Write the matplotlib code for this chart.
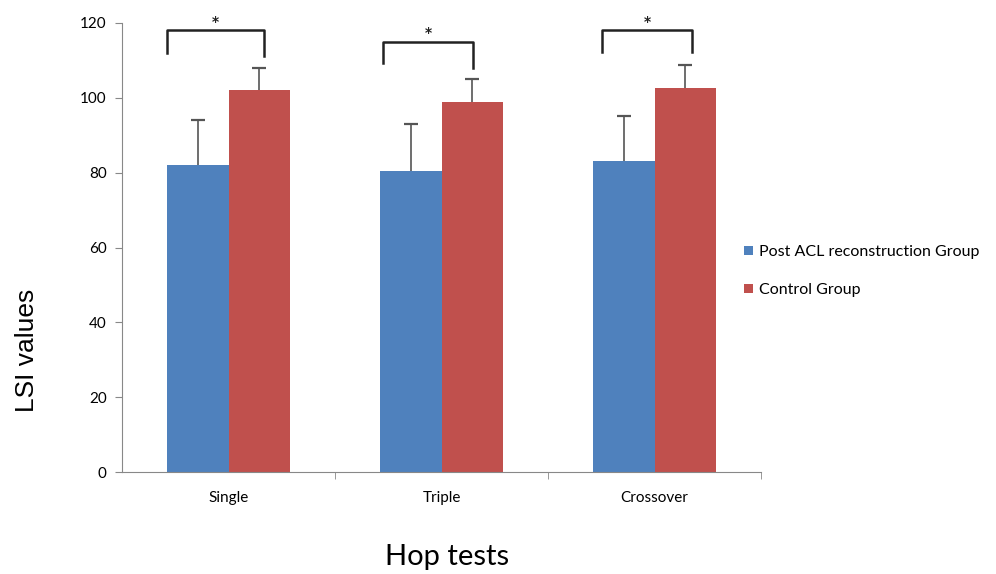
import numpy as np
import matplotlib.pyplot as plt

# Limb symmetry index per hop test
tests = ['Single', 'Triple', 'Crossover']
acl_mean = [82, 80.5, 83]
acl_sd = [12, 12.5, 12.2]
ctrl_mean = [102, 99, 102.7]
ctrl_sd = [6, 6, 6.2]

# significance brackets: offsets from group centre, top and leg ends
br_left = [-0.29, -0.275, -0.246]
br_right = [0.167, 0.148, 0.176]
br_top = [118, 115, 118.1]
br_end_left = [112, 109.2, 112.2]
br_end_right = [111.2, 108, 112.2]

blue = '#4F81BD'
red = '#C0504D'

plt.rcParams['font.family'] = ['Lato', 'DejaVu Sans']

fig = plt.figure(figsize=(9.96, 5.74), dpi=100)
ax = fig.add_axes([122 / 996, 1 - 472 / 574, 639 / 996, 449 / 574])

x = np.arange(len(tests))
w = 0.288
ax.bar(x - w / 2, acl_mean, w, color=blue, label='Post ACL reconstruction Group', zorder=2)
ax.bar(x + w / 2, ctrl_mean, w, color=red, label='Control Group', zorder=2)

# upper error bars only, cap at the top end
for xs, m, sd in [(x - w / 2, acl_mean, acl_sd), (x + w / 2, ctrl_mean, ctrl_sd)]:
    top = np.array(m) + np.array(sd)
    ax.vlines(xs, m, top, color='#555555', lw=1.2, zorder=3)
    ax.plot(xs, top, linestyle='none', marker='_', markersize=10, mew=1.6,
            color='#555555', zorder=3)

for i in range(len(tests)):
    xl, xr = i + br_left[i], i + br_right[i]
    ax.plot([xl, xl, xr, xr], [br_end_left[i], br_top[i], br_top[i], br_end_right[i]],
            color='#222222', lw=1.8, solid_joinstyle='round', zorder=4, clip_on=False)
    ax.text((xl + xr) / 2, br_top[i] + 0.4, '*', ha='center', va='bottom',
            fontsize=10, fontweight='bold', color='#222222', family='DejaVu Sans')

ax.set_xlim(-0.5, 2.5)
ax.set_ylim(0, 120)
ax.set_yticks(range(0, 121, 20))
ax.set_xticks(x)
ax.set_xticklabels(tests, fontsize=11)
ax.set_xticks([0.5, 1.5, 2.5], minor=True)
ax.tick_params(axis='x', which='major', length=0, pad=14)
ax.tick_params(axis='x', which='minor', length=5, color='#888888')
ax.tick_params(axis='y', length=5, color='#888888', labelsize=11, pad=6)
for s in ['top', 'right']:
    ax.spines[s].set_visible(False)
for s in ['left', 'bottom']:
    ax.spines[s].set_color('#888888')

fig.text(27 / 996, 1 - 350 / 574, 'LSI values', rotation=90, ha='center', va='center',
         fontsize=19, family='Liberation Sans')
fig.text(447 / 996, 1 - 557 / 574, 'Hop tests', ha='center', va='center', fontsize=21)

fig.legend(loc='center left', bbox_to_anchor=(730 / 996, 1 - 271 / 574), frameon=False,
           fontsize=11.5, handlelength=0.55, handleheight=0.55, handletextpad=0.35,
           labelspacing=1.5)

fig.savefig('out.png', dpi=100)
